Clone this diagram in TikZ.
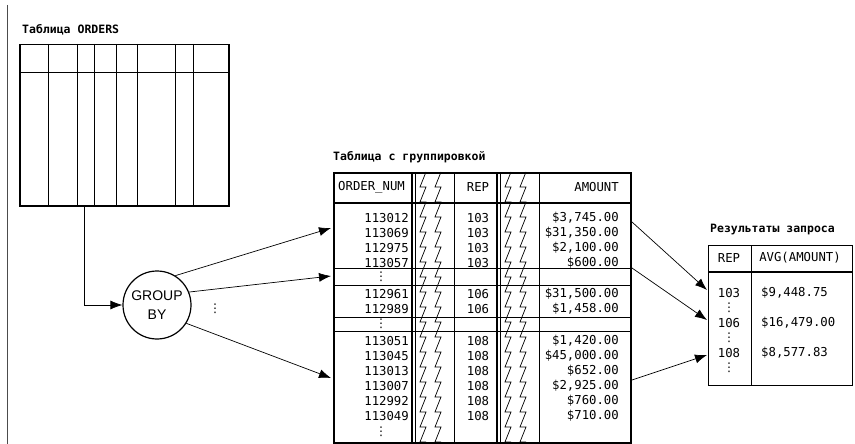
\documentclass[tikz,border=0pt]{standalone}
\usepackage{fontspec}
\setmainfont{DejaVu Sans Mono}
\newfontfamily\gbfont{Liberation Sans}
\newfontfamily\dvfont{DejaVu Sans}
\usetikzlibrary{arrows.meta}
\tikzset{
  frame/.style={line width=1.5pt},
  rule/.style={line width=0.6pt},
  mid/.style={line width=0.9pt},
  zz/.style={line width=0.7pt},
  arr/.style={line width=0.7pt,-{Latex[length=12pt,width=9pt]}},
  num/.style={inner sep=0pt,font=\fontsize{12.3}{12}\selectfont},
  ttl/.style={inner sep=0pt,anchor=west,font=\fontsize{11.5}{12}\selectfont\bfseries},
  vd/.style={inner sep=0pt,font=\dvfont\fontsize{12}{12}\selectfont},
}
\newcommand\zigline[1]{%
  \draw[zz] (#1+3,172) \foreach \i in {1,...,18} { -- (#1-3,{172+15*\i}) -- (#1+3,{172+15*\i})};}
\begin{document}
\begin{tikzpicture}[x=1pt,y=-1pt]
\useasboundingbox (0,0) rectangle (855,444);
% left margin rule
\draw[line width=0.8pt,black!70] (7,5) -- (7,444);

% ---- ORDERS table ----
\node[ttl] (t1) at (22,30) {Таблица ORDERS};
\node[draw,frame,anchor=north west,minimum width=209pt,minimum height=161pt,inner sep=0pt] (orders) at (19,44) {};
\draw[mid] (19,72) -- (228,72);
\foreach \x in {48,77,94,116,137,175,193} \draw[rule] (\x,44) -- (\x,205);
\coordinate (ordbot) at (84,205);

% ---- GROUP BY ----
\node[draw,circle,line width=1.2pt,minimum size=68pt,inner sep=0pt,align=center,
      font=\gbfont\fontsize{14}{19}\selectfont] (gb) at (157,305) {GROUP\\BY};
\draw[arr] (ordbot) |- (gb);
\node[vd] (gbdots) at (215,309) {⋮};

% ---- grouped table ----
\node[ttl] (t2) at (333,157) {Таблица с группировкой};
\node[draw,frame,anchor=north west,minimum width=297pt,minimum height=270pt,inner sep=0pt] (grp) at (333,172) {};
\draw[frame] (333,203) -- (630,203);
\draw[line width=1.2pt] (412,172) -- (412,442);
\draw[rule] (415.5,172) -- (415.5,442);
\draw[rule] (454,172) -- (454,442);
\draw[line width=1.2pt] (497,172) -- (497,442);
\draw[rule] (500.5,172) -- (500.5,442);
\draw[mid] (539,172) -- (539,442);
\foreach \y in {268,285,317,331} \draw[rule] (333,\y) -- (630,\y);
\zigline{423}\zigline{438}\zigline{508}\zigline{523}

\node[num,anchor=west] (hon) at (338,187) {ORDER\_NUM};
\node[num] (hrep) at (478,187) {REP};
\node[num,anchor=east] (hamt) at (619,187) {AMOUNT};

\foreach \v/\y [count=\k] in {113012/218,113069/233,112975/248,113057/263,112961/294,112989/309,113051/341,113045/356,113013/371,113007/386,112992/401,113049/416}
  \node[num,anchor=east] (on\k) at (409,\y) {\v};
\foreach \v/\y [count=\k] in {103/218,103/233,103/248,103/263,106/294,106/309,108/341,108/356,108/371,108/386,108/401,108/416}
  \node[num] (rp\k) at (478,\y) {\v};
\node[num,anchor=east] (am1) at (619,218) {\$3,745.00};
\node[num,anchor=east] (am2) at (619,233) {\$31,350.00};
\node[num,anchor=east] (am3) at (619,248) {\$2,100.00};
\node[num,anchor=east] (am4) at (619,263) {\$600.00};
\node[num,anchor=east] (am5) at (619,294) {\$31,500.00};
\node[num,anchor=east] (am6) at (619,309) {\$1,458.00};
\node[num,anchor=east] (am7) at (619,341) {\$1,420.00};
\node[num,anchor=east] (am8) at (619,356) {\$45,000.00};
\node[num,anchor=east] (am9) at (619,371) {\$652.00};
\node[num,anchor=east] (am10) at (619,386) {\$2,925.00};
\node[num,anchor=east] (am11) at (619,401) {\$760.00};
\node[num,anchor=east] (am12) at (619,416) {\$710.00};
\node[vd] (od1) at (381,277) {⋮};
\node[vd] (od2) at (381,324) {⋮};
\node[vd] (od3) at (381,432) {⋮};

% arrows GROUP BY -> groups
\coordinate (g1) at (331,228);
\coordinate (g2) at (331,276);
\coordinate (g3) at (331,378);
\draw[arr] (gb.58) -- (g1);
\draw[arr] (gb.22) -- (g2);
\draw[arr] (gb.-32) -- (g3);

% ---- result table ----
\node[ttl] (t3) at (710,230) {Результаты запроса};
\node[draw,line width=1.3pt,anchor=north west,minimum width=144pt,minimum height=140pt,inner sep=0pt] (res) at (708,245) {};
\draw[line width=1.2pt] (708,272) -- (852,272);
\draw[rule] (751,245) -- (751,385);
\node[num] (rh1) at (729,258) {REP};
\node[num] (rh2) at (800,258) {AVG(AMOUNT)};
\node[num] (r1) at (729,293) {103};
\node[num] (r2) at (729,323) {106};
\node[num] (r3) at (729,353) {108};
\node[num,anchor=west] (v1) at (761,293) {\$9,448.75};
\node[num,anchor=west] (v2) at (761,323) {\$16,479.00};
\node[num,anchor=west] (v3) at (761,353) {\$8,577.83};
\node[vd] (rd1) at (729,308) {⋮};
\node[vd] (rd2) at (729,338) {⋮};
\node[vd] (rd3) at (729,368) {⋮};

% arrows groups -> results
\coordinate (s1) at (632,222);
\coordinate (s2) at (632,268);
\coordinate (s3) at (632,380);
\coordinate (e1) at (707,290);
\coordinate (e2) at (707,320);
\coordinate (e3) at (707,355);
\draw[arr] (s1) -- (e1);
\draw[arr] (s2) -- (e2);
\draw[arr] (s3) -- (e3);
\end{tikzpicture}
\end{document}
